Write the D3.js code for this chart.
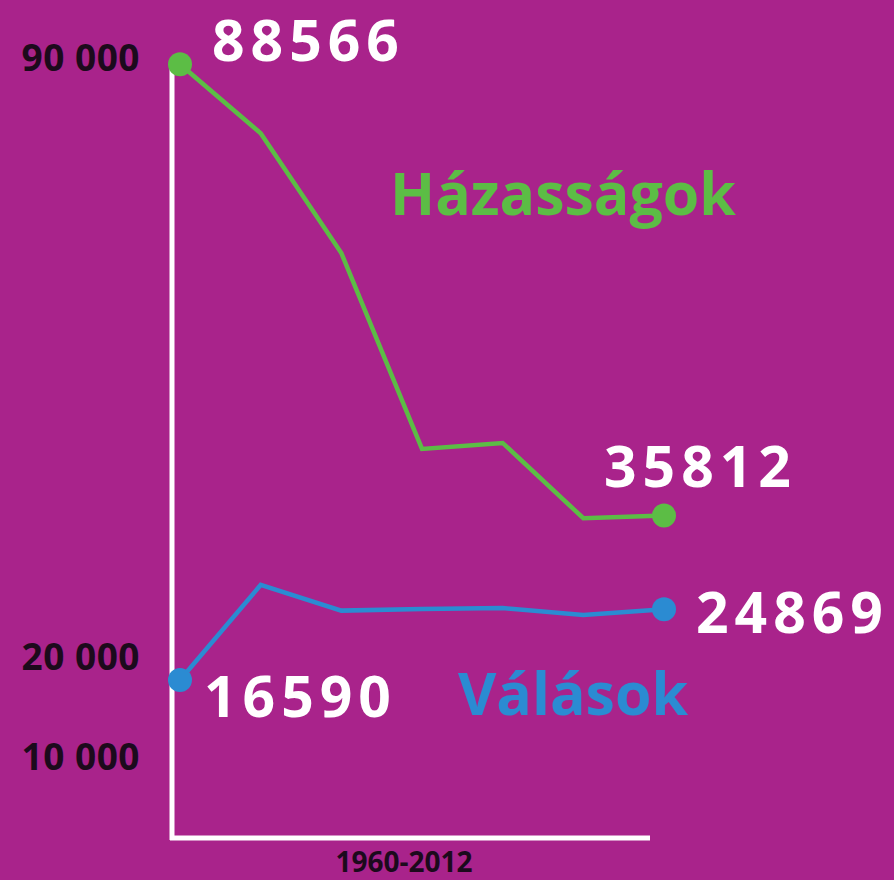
<!DOCTYPE html>
<html>
<head>
<meta charset="utf-8">
<script src="https://cdn.jsdelivr.net/npm/d3@7"></script>
<style>
  body { margin: 0; background: #a9238b; }
  svg { display: block; }
  text { font-family: "Open Sans", sans-serif; font-weight: 700; }
</style>
</head>
<body>
<div id="chart"></div>
<script>
// periods along the x axis (evenly spaced in the original)
const periods = ["1960", "1980", "1990", "2001", "2005", "2010", "2012"]
const marriages = [88566, 80500, 66500, 43600, 44300, 35500, 35812]
const divorces = [16590, 27700, 24700, 24900, 25000, 24200, 24869]
const yTicks = [90000, 20000, 10000]
const yTickLabels = ["90 000", "20 000", "10 000"]
const xLabel = "1960-2012"

const width = 894, height = 880
const green = "#5cbd45", blue = "#2b8bd2"

const svg = d3.select("#chart").append("svg")
  .attr("width", width)
  .attr("height", height)

svg.append("rect")
  .attr("width", width)
  .attr("height", height)
  .attr("fill", "#a9238b")

const x = d3.scalePoint()
  .domain(periods)
  .range([180, 664])

// the original axis isn't quite linear near the bottom
const y = d3.scaleLinear()
  .domain([10000, 16590, 90000])
  .range([757, 680, 52])

// axes
svg.append("line")
  .attr("x1", 172).attr("x2", 172)
  .attr("y1", y(88566)).attr("y2", 840)
  .attr("stroke", "#fff").attr("stroke-width", 5)

svg.append("line")
  .attr("x1", 170).attr("x2", 650)
  .attr("y1", 838).attr("y2", 838)
  .attr("stroke", "#fff").attr("stroke-width", 5)

svg.selectAll(".ytick")
  .data(yTicks)
  .enter().append("text")
  .attr("class", "ytick")
  .attr("x", 140)
  .attr("y", (d, i) => y(d) + (i == 2 ? 0 : 6))
  .attr("dy", "0.35em")
  .attr("text-anchor", "end")
  .attr("font-size", 37)
  .attr("letter-spacing", 0.5)
  .attr("fill", "#1c0a1c")
  .text((d, i) => yTickLabels[i])

svg.append("text")
  .attr("x", 404)
  .attr("y", 872)
  .attr("text-anchor", "middle")
  .attr("font-size", 28)
  .attr("fill", "#1c0a1c")
  .text(xLabel)

const line = d3.line()
  .x((d, i) => x(periods[i]))
  .y(d => y(d))

function drawSeries(values, color) {
  svg.append("path")
    .datum(values)
    .attr("d", line)
    .attr("fill", "none")
    .attr("stroke", color)
    .attr("stroke-width", 4.5)

  const last = values.length - 1
  svg.selectAll(null)
    .data([0, last])
    .enter().append("circle")
    .attr("cx", i => x(periods[i]))
    .attr("cy", i => y(values[i]))
    .attr("r", 12)
    .attr("fill", color)
}

drawSeries(marriages, green)
drawSeries(divorces, blue)

// value labels
const valueLabels = [
  { v: marriages[0], x: 212, y: 61 },
  { v: marriages[marriages.length - 1], x: 604, y: 487 },
  { v: divorces[divorces.length - 1], x: 696, y: 633 },
  { v: divorces[0], x: 204, y: 717 }
]

svg.selectAll(".val")
  .data(valueLabels)
  .enter().append("text")
  .attr("class", "val")
  .attr("x", d => d.x)
  .attr("y", d => d.y)
  .attr("font-size", 57)
  .attr("letter-spacing", 6)
  .attr("fill", "#fff")
  .text(d => d.v)

svg.append("text")
  .attr("x", 390)
  .attr("y", 215)
  .attr("font-size", 59)
  .attr("fill", green)
  .text("Házasságok")

svg.append("text")
  .attr("x", 458)
  .attr("y", 715)
  .attr("font-size", 59)
  .attr("fill", blue)
  .text("Válások")
</script>
</body>
</html>
